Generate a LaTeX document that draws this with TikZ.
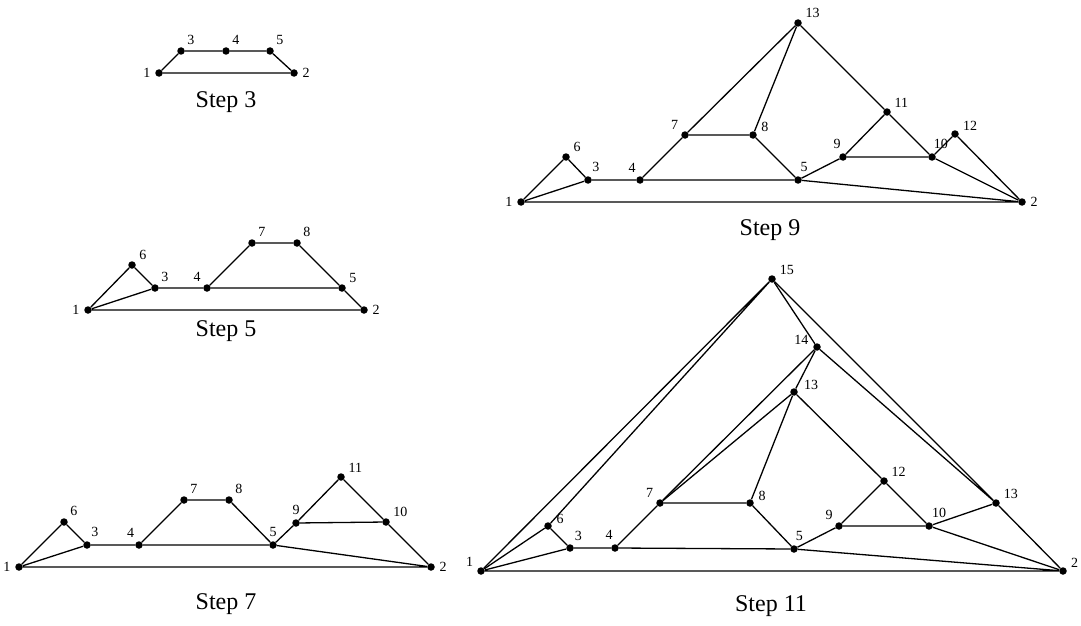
\documentclass[tikz,border=0pt]{standalone}
\usepackage{fontspec}
\setmainfont{Liberation Serif}

\begin{document}
\begin{tikzpicture}[
  x=1pt, y=-1pt,
  dot/.style={circle, fill=black, inner sep=0pt, minimum size=7.5pt},
  every label/.style={font=\fontsize{14}{14}\selectfont, inner sep=1pt},
  label distance=3.5pt,
  caption/.style={font=\fontsize{24}{24}\selectfont},
  edge/.style={line width=1.3pt}
]
\useasboundingbox (0,0) rectangle (1081,626);

% Step 3
\node[dot, label=left:1] (s3-1) at (159,73) {};
\node[dot, label=right:2] (s3-2) at (294,73) {};
\node[dot, label=45:3] (s3-3) at (181,51) {};
\node[dot, label=45:4] (s3-4) at (226,51) {};
\node[dot, label=45:5] (s3-5) at (270,51) {};
\node[caption] (cap3) at (226,102) {Step 3};

\draw[edge] (s3-1) -- (s3-2) -- (s3-5) -- (s3-4) -- (s3-3) -- (s3-1);

% Step 5
\node[dot, label=left:1] (s5-1) at (88,310) {};
\node[dot, label=right:2] (s5-2) at (364,310) {};
\node[dot, label=45:3] (s5-3) at (155,288) {};
\node[dot, label=135:4] (s5-4) at (207,288) {};
\node[dot, label=35:5] (s5-5) at (342,288) {};
\node[dot, label=35:6] (s5-6) at (132,265) {};
\node[dot, label=45:7] (s5-7) at (252,243) {};
\node[dot, label=45:8] (s5-8) at (297,243) {};
\node[caption] (cap5) at (226,331) {Step 5};

\draw[edge] (s5-1) -- (s5-2) -- (s5-5) -- (s5-4) -- (s5-3) -- (s5-1);
\draw[edge] (s5-1) -- (s5-6) -- (s5-3);
\draw[edge] (s5-4) -- (s5-7) -- (s5-8) -- (s5-5);

% Step 7
\node[dot, label=left:1] (s7-1) at (19,567) {};
\node[dot, label=right:2] (s7-2) at (431,567) {};
\node[dot, label=65:3] (s7-3) at (87,545) {};
\node[dot, label=120:4] (s7-4) at (139,545) {};
\node[dot, label=90:5] (s7-5) at (273,545) {};
\node[dot, label=45:6] (s7-6) at (64,522) {};
\node[dot, label=45:7] (s7-7) at (184,500) {};
\node[dot, label=45:8] (s7-8) at (229,500) {};
\node[dot, label=90:9] (s7-9) at (296,523) {};
\node[dot, label=35:10] (s7-10) at (386,522) {};
\node[dot, label=30:11] (s7-11) at (341,477) {};
\node[caption] (cap7) at (226,604) {Step 7};

\draw[edge] (s7-1) -- (s7-2) -- (s7-5) -- (s7-4) -- (s7-3) -- (s7-1);
\draw[edge] (s7-1) -- (s7-6) -- (s7-3);
\draw[edge] (s7-4) -- (s7-7) -- (s7-8) -- (s7-5);
\draw[edge] (s7-5) -- (s7-9) -- (s7-11) -- (s7-10) -- (s7-2);
\draw[edge] (s7-9) -- (s7-10);

% Step 9
\node[dot, label=left:1] (s9-1) at (521,202) {};
\node[dot, label=right:2] (s9-2) at (1022,202) {};
\node[dot, label=65:3] (s9-3) at (588,180) {};
\node[dot, label=115:4] (s9-4) at (640,180) {};
\node[dot, label=80:5] (s9-5) at (798,180) {};
\node[dot, label=30:6] (s9-6) at (566,157) {};
\node[dot, label=140:7] (s9-7) at (685,135) {};
\node[dot, label=15:8] (s9-8) at (753,135) {};
\node[dot, label=100:9] (s9-9) at (843,157) {};
\node[dot, label=85:10] (s9-10) at (932,157) {};
\node[dot, label=30:11] (s9-11) at (887,112) {};
\node[dot, label=20:12] (s9-12) at (955,134) {};
\node[dot, label=30:13] (s9-13) at (798,23) {};
\node[caption] (cap9) at (770,230) {Step 9};

\draw[edge] (s9-1) -- (s9-2) -- (s9-5) -- (s9-4) -- (s9-3) -- (s9-1);
\draw[edge] (s9-1) -- (s9-6) -- (s9-3);
\draw[edge] (s9-4) -- (s9-7) -- (s9-8) -- (s9-5);
\draw[edge] (s9-7) -- (s9-13) -- (s9-8);
\draw[edge] (s9-13) -- (s9-11);
\draw[edge] (s9-5) -- (s9-9) -- (s9-11) -- (s9-10) -- (s9-2);
\draw[edge] (s9-9) -- (s9-10) -- (s9-12) -- (s9-2);

% Step 11
\node[dot, label=155:1] (s11-1) at (481,571) {};
\node[dot, label=20:2] (s11-2) at (1063,571) {};
\node[dot, label=60:3] (s11-3) at (570,548) {};
\node[dot, label=100:4] (s11-4) at (615,548) {};
\node[dot, label=85:5] (s11-5) at (794,549) {};
\node[dot, label=10:6] (s11-6) at (548,526) {};
\node[dot, label=140:7] (s11-7) at (660,503) {};
\node[dot, label=10:8] (s11-8) at (750,503) {};
\node[dot, label=135:9] (s11-9) at (839,526) {};
\node[dot, label=75:10] (s11-10) at (929,526) {};
\node[dot, label=30:12] (s11-12) at (884,481) {};
\node[dot, label={[label distance=5pt]10:13}] (s11-13) at (794,392) {};
\node[dot, label=170:14] (s11-14) at (817,347) {};
\node[dot, label=25:15] (s11-15) at (772,279) {};
\node[dot, label=25:13] (s11-13b) at (996,503) {};
\node[caption] (cap11) at (771,606) {Step 11};

\draw[edge] (s11-1) -- (s11-2) -- (s11-5) -- (s11-4) -- (s11-3) -- (s11-1);
\draw[edge] (s11-1) -- (s11-6) -- (s11-3);
\draw[edge] (s11-1) -- (s11-15) -- (s11-6);
\draw[edge] (s11-4) -- (s11-7) -- (s11-8) -- (s11-5);
\draw[edge] (s11-7) -- (s11-14);
\draw[edge] (s11-7) -- (s11-13) -- (s11-8);
\draw[edge] (s11-15) -- (s11-14) -- (s11-13) -- (s11-12);
\draw[edge] (s11-5) -- (s11-9) -- (s11-12) -- (s11-10) -- (s11-2);
\draw[edge] (s11-9) -- (s11-10) -- (s11-13b) -- (s11-2);
\draw[edge] (s11-14) -- (s11-13b) -- (s11-15);
\end{tikzpicture}
\end{document}
